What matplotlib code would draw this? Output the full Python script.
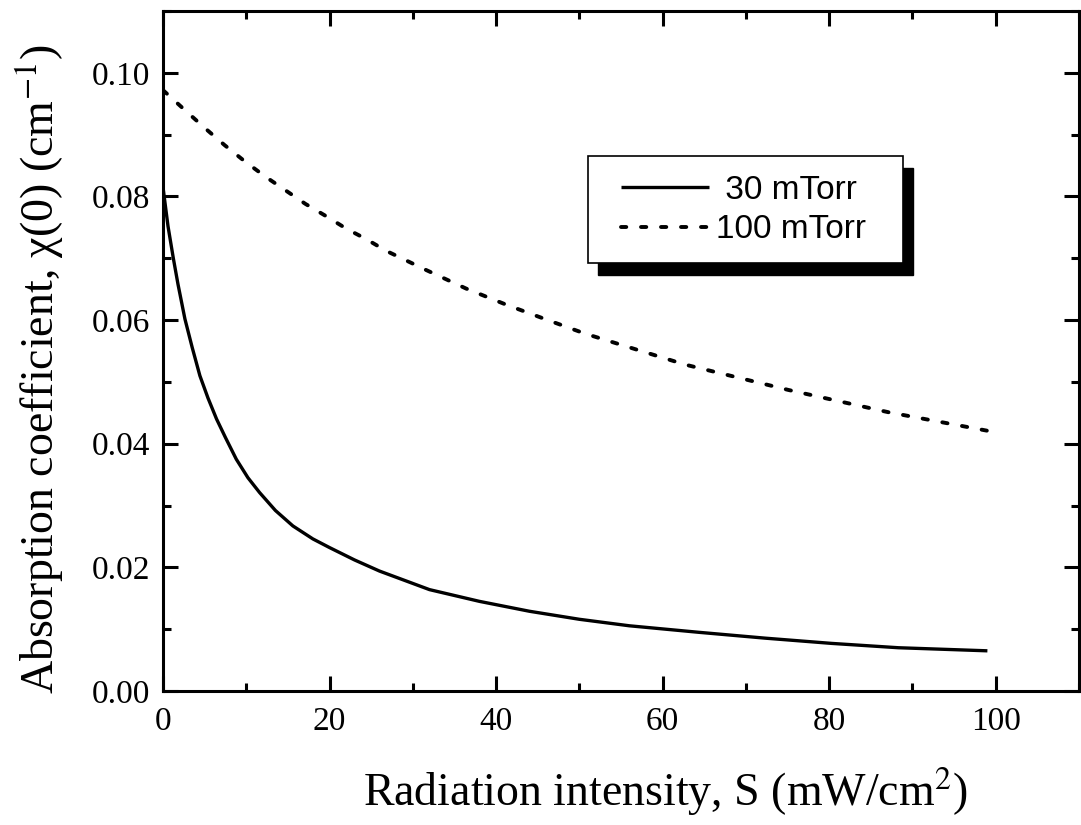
import matplotlib
matplotlib.use("Agg")
import matplotlib.pyplot as plt
from matplotlib.patches import Rectangle
from matplotlib.ticker import MultipleLocator, FormatStrFormatter

plt.rcParams['font.family'] = ['Liberation Serif', 'DejaVu Serif']
plt.rcParams['mathtext.fontset'] = 'stix'
plt.rcParams['lines.scale_dashes'] = False

# values
s_30 = [0.0, 0.6, 1.24, 1.8, 2.63, 3.5, 4.43, 5.4, 6.43, 7.5, 8.8, 10.2, 11.6, 13.5,
        15.6, 18.0, 20.0, 23.0, 26.0, 32.0, 38.0, 44.0, 50.0, 56.0, 64.3, 72.3,
        80.3, 88.3, 99.0]
chi_30 = [0.0815, 0.0752, 0.0700, 0.0658, 0.0602, 0.0556, 0.0510, 0.0474, 0.0440,
          0.0410, 0.0375, 0.0345, 0.0321, 0.0292, 0.0267, 0.0246, 0.0232, 0.0212,
          0.0194, 0.0164, 0.0145, 0.0129, 0.0116, 0.01055, 0.0095, 0.00855,
          0.0077, 0.0070, 0.0065]

s_100 = [0.0, 2.6, 5.0, 7.4, 9.8, 12.3, 14.7, 17.1, 19.6, 22.0, 24.4, 26.8, 31.6,
         36.4, 41.2, 46.0, 50.7, 62.7, 75.1, 87.1, 99.0]
chi_100 = [0.0972, 0.0940, 0.0911, 0.0883, 0.0857, 0.0832, 0.0810, 0.0788, 0.0768,
           0.0748, 0.0731, 0.0712, 0.0681, 0.0651, 0.0625, 0.0601, 0.0578, 0.0528,
           0.0487, 0.0451, 0.0421]

labels = [' 30 mTorr', '100 mTorr']

W, H = 1081, 825
fig = plt.figure(figsize=(W / 100, H / 100), dpi=100)
ax = fig.add_axes([163 / W, 1 - 691 / H, 916 / W, 680 / H])

ax.plot(s_30, chi_30, color='black', lw=2.4, solid_capstyle='butt',
        solid_joinstyle='round', label=labels[0])
ax.plot(s_100, chi_100, color='black', lw=2.8, dashes=(3.8, 10.6),
        dash_capstyle='round', label=labels[1])

ax.set_xlim(0, 110)
ax.set_ylim(0, 0.11)
ax.set_xticks([0, 20, 40, 60, 80, 100])
ax.xaxis.set_minor_locator(MultipleLocator(10))
ax.yaxis.set_major_locator(MultipleLocator(0.02))
ax.yaxis.set_minor_locator(MultipleLocator(0.01))
ax.yaxis.set_major_formatter(FormatStrFormatter('%.2f'))

for sp in ax.spines.values():
    sp.set_linewidth(2.2)
ax.tick_params(which='both', direction='in', top=True, right=True, width=2.2,
               labelsize=24)
ax.tick_params(which='major', length=11)
ax.tick_params(which='minor', length=6)
ax.tick_params(axis='y', pad=9.5)
ax.tick_params(axis='x', pad=11)

ax.set_xlabel('Radiation intensity, S (mW/cm$^2$)', fontsize=33, va='center')
ax.xaxis.set_label_coords(0.548, -0.148)
ax.set_ylabel('Absorption coefficient, χ(0) (cm$^{-1}$)', fontsize=33, va='center')
ax.yaxis.set_label_coords(-0.135, 0.4735)

# legend box with solid black shadow
ax.add_patch(Rectangle((598 / W, 1 - 275 / H), 315 / W, 107 / H,
                       transform=fig.transFigure, facecolor='black',
                       edgecolor='black', clip_on=False, zorder=5))
ax.add_patch(Rectangle((588 / W, 1 - 263 / H), 315 / W, 107 / H,
                       transform=fig.transFigure, facecolor='white',
                       edgecolor='black', lw=1.2, clip_on=False, zorder=6))
leg = ax.legend(loc='center', bbox_to_anchor=(743 / W, 1 - 210 / H),
                bbox_transform=fig.transFigure, frameon=False,
                prop={'family': 'Liberation Sans', 'size': 24},
                handlelength=2.65, handletextpad=0.2, labelspacing=0.25)
leg.set_zorder(7)

fig.savefig('out.png', dpi=100)
